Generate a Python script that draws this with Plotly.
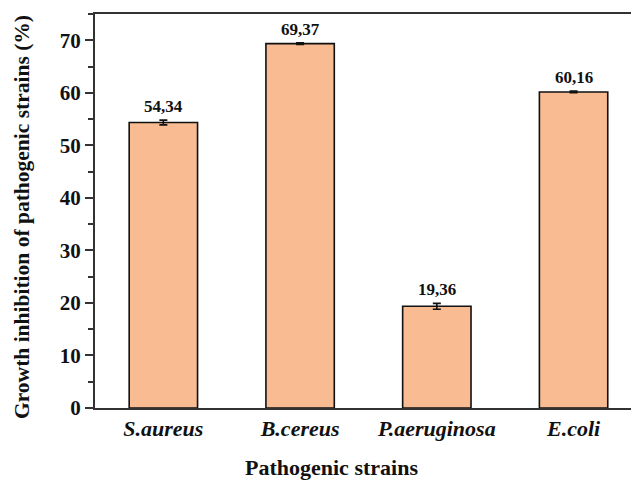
import plotly.graph_objects as go

categories = ["S.aureus", "B.cereus", "P.aeruginosa", "E.coli"]
values = [54.34, 69.37, 19.36, 60.16]
errors = [0.45, 0.15, 0.55, 0.15]
labels = ["54,34", "69,37", "19,36", "60,16"]
tick_labels = ["<b><i>%s</i></b>" % c for c in categories]

FONT = "Liberation Serif"

fig = go.Figure()
fig.add_trace(go.Bar(
    x=categories, y=values, width=0.5,
    marker=dict(color="#F9BB91", line=dict(color="#111111", width=1.6)),
    error_y=dict(type="data", array=errors, visible=True, color="#111111",
                 thickness=1.6, width=4),
))

for c, v, e, t in zip(categories, values, errors, labels):
    fig.add_annotation(x=c, y=v + e, text="<b>%s</b>" % t, showarrow=False,
                       yanchor="bottom", yshift=2,
                       font=dict(family=FONT, size=17, color="#111111"))

fig.add_annotation(xref="paper", yref="paper", x=0.442, y=-0.152,
                   text="<b>Pathogenic strains</b>", showarrow=False,
                   xanchor="center", yanchor="middle",
                   font=dict(family=FONT, size=22, color="#111111"))
fig.add_annotation(xref="paper", yref="paper", x=-0.136, y=0.485,
                   text="<b>Growth inhibition of pathogenic strains (%)</b>",
                   showarrow=False, textangle=-90,
                   xanchor="center", yanchor="middle",
                   font=dict(family=FONT, size=21.5, color="#111111"))

fig.update_layout(
    width=631, height=481,
    margin=dict(l=95, r=0, t=14, b=73),
    paper_bgcolor="white", plot_bgcolor="white",
    showlegend=False,
    font=dict(family=FONT, color="#111111"),
    xaxis=dict(range=[-0.5, 3.42], tickmode="array", tickvals=categories,
               ticktext=tick_labels, showline=True, linecolor="#333333",
               linewidth=2, mirror=True, ticks="", showgrid=False,
               tickfont=dict(family=FONT, size=22, color="#111111")),
    yaxis=dict(range=[0, 75], dtick=10, showline=True, linecolor="#333333",
               linewidth=2, ticks="outside", ticklen=8, tickwidth=1.5,
               tickcolor="#333333", showgrid=False, zeroline=False,
               tickprefix="<b>", ticksuffix="</b>",
               minor=dict(dtick=5, ticks="outside", ticklen=5,
                          tickwidth=1.5, tickcolor="#333333"),
               tickfont=dict(family=FONT, size=21, color="#111111")),
)

fig.write_html("out.html", config={"displayModeBar": False},
               post_script="document.body.style.margin='0';document.body.style.overflow='hidden';")
